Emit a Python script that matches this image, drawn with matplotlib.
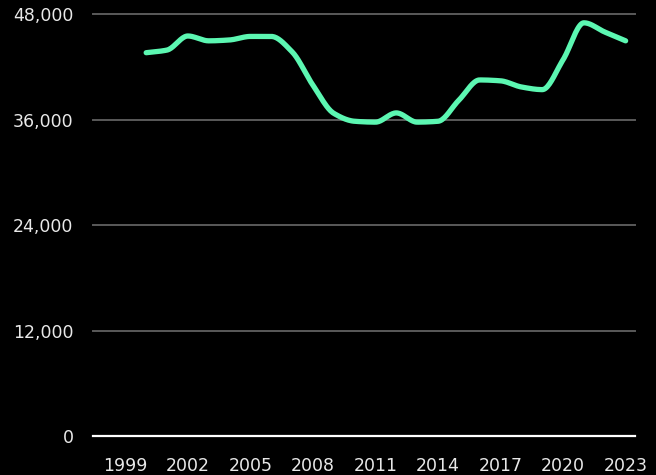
import matplotlib
matplotlib.use("Agg")
import matplotlib.pyplot as plt
import numpy as np

years = [2000, 2001, 2002, 2003, 2004, 2005, 2006, 2007, 2008, 2009, 2010, 2011,
         2012, 2013, 2014, 2015, 2016, 2017, 2018, 2019, 2020, 2021, 2022, 2023]
values = [43600, 43900, 45500, 44950, 45050, 45450, 45450, 43700, 39900, 36700,
          35800, 35700, 36750, 35700, 35800, 38200, 40500, 40400, 39700, 39400,
          42800, 47000, 45950, 44950]
x_ticks = [1999, 2002, 2005, 2008, 2011, 2014, 2017, 2020, 2023]
y_ticks = [0, 12000, 24000, 36000, 48000]

line_color = "#5CF7B2"
grid_color = "#5a5a5a"
text_color = "#e8e8e8"


def monotone_curve(x, y, n=20):
    # monotone cubic (Fritsch-Carlson) path through the points, for drawing only
    x = np.asarray(x, float)
    y = np.asarray(y, float)
    h = np.diff(x)
    d = np.diff(y) / h
    m = np.zeros_like(y)
    m[0], m[-1] = d[0], d[-1]
    for i in range(1, len(x) - 1):
        if d[i - 1] * d[i] <= 0:
            m[i] = 0
        else:
            w1 = 2 * h[i] + h[i - 1]
            w2 = h[i] + 2 * h[i - 1]
            m[i] = (w1 + w2) / (w1 / d[i - 1] + w2 / d[i])
    xs, ys = [], []
    for i in range(len(x) - 1):
        t = np.linspace(0, 1, n, endpoint=False)
        h00 = 2 * t**3 - 3 * t**2 + 1
        h10 = t**3 - 2 * t**2 + t
        h01 = -2 * t**3 + 3 * t**2
        h11 = t**3 - t**2
        xs.append(x[i] + t * h[i])
        ys.append(h00 * y[i] + h10 * h[i] * m[i] + h01 * y[i + 1] + h11 * h[i] * m[i + 1])
    xs.append([x[-1]])
    ys.append([y[-1]])
    return np.concatenate(xs), np.concatenate(ys)


fig = plt.figure(figsize=(6.56, 4.75), dpi=100, facecolor="black")
ax = fig.add_axes([0.1418, 0.0821, 0.968 - 0.1418, 0.9705 - 0.0821])
ax.set_facecolor("black")

for yv in y_ticks[1:]:
    ax.axhline(yv, color=grid_color, lw=1.4, zorder=1, clip_on=False)
ax.axhline(0, color="white", lw=1.6, zorder=1, clip_on=False)

cx, cy = monotone_curve(years, values)
ax.plot(cx, cy, color=line_color, lw=3.8, solid_capstyle="round",
        solid_joinstyle="round", zorder=3)

ax.set_xlim(1997.45, 2023.45)
ax.set_ylim(0, 48000)
ax.set_xticks(x_ticks)
ax.set_xticklabels([str(v) for v in x_ticks])
ax.set_yticks(y_ticks)
ax.set_yticklabels(["{:,}".format(v) for v in y_ticks])

ax.tick_params(axis="both", length=0, labelsize=12.5, labelcolor=text_color)
ax.tick_params(axis="x", pad=15)
ax.tick_params(axis="y", pad=14)
for lab in ax.get_xticklabels() + ax.get_yticklabels():
    lab.set_family("DejaVu Sans")

for s in ax.spines.values():
    s.set_visible(False)

plt.savefig("out.png", dpi=100, facecolor="black")
